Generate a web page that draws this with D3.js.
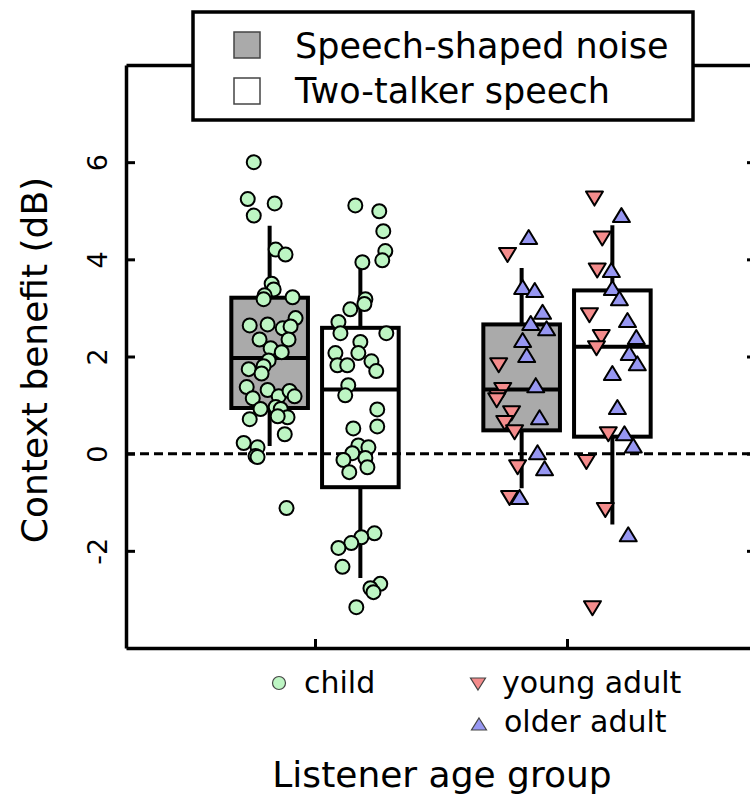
<!DOCTYPE html>
<html>
<head>
<meta charset="utf-8">
<script src="https://cdn.jsdelivr.net/npm/d3@7/dist/d3.min.js"></script>
<style>
  body { margin: 0; background: #fff; }
  text { font-family: "DejaVu Sans", sans-serif; }
</style>
</head>
<body>
<svg id="chart" width="750" height="804"></svg>
<script>
// group positions on x: 1 = child, 2 = adult
const groupPos = [1, 2];
const conditions = ["Speech-shaped noise", "Two-talker speech"];
const condFill = ["#aaaaaa", "#ffffff"];
const condShift = [-0.18, 0.18];
const yTicks = [-2, 0, 2, 4, 6];

// box stats: [whisker low, q1, median, q3, whisker high]
const boxChildSSN = [0.16, 0.94, 1.97, 3.21, 4.69];
const boxChildTTS = [-2.56, -0.69, 1.32, 2.59, 3.96];
const boxAdultSSN = [-0.71, 0.48, 1.32, 2.66, 3.82];
const boxAdultTTS = [-1.46, 0.35, 2.2, 3.36, 4.7];

// children, speech-shaped noise: values and horizontal jitter
const childSSN = [6.00, 5.24, 5.15, 4.90, 4.20, 4.10, 3.50, 3.38, 3.26, 3.18, 3.22, 2.79, 2.64, 2.66,
  2.58, 2.62, 2.35, 2.35, 2.17, 2.09, 1.74, 1.92, 1.80, 1.65, 1.37, 1.14, 1.31, 1.18, 1.29, 1.18,
  0.92, 0.96, 0.92, 0.75, 0.71, 0.77, 0.40, 0.22, 0.13, -0.05, -0.07, -1.12];
const childSSNJit = [-0.063, -0.087, 0.020, -0.063, 0.024, 0.063, 0.008, 0.016, -0.020, -0.024, 0.091,
  0.103, -0.079, -0.008, 0.052, 0.083, -0.040, 0.075, 0.004, 0.048, -0.083, -0.004, -0.024, -0.032,
  -0.091, -0.067, -0.008, 0.036, 0.079, 0.099, -0.036, 0.024, 0.044, 0.071, -0.079, 0.032, 0.060,
  -0.103, -0.048, -0.056, -0.048, 0.067];

// children, two-talker speech
const childTTS = [5.11, 4.99, 4.58, 4.17, 3.98, 3.94, 3.18, 3.08, 2.97, 2.71, 2.48, 2.48, 2.30, 2.07,
  2.07, 1.82, 1.82, 1.90, 1.70, 1.41, 1.20, 0.91, 0.56, 0.52, 0.17, 0.13, 0.01, -0.13, -0.09, -0.28,
  -0.38, -1.64, -1.72, -1.84, -1.94, -2.33, -2.68, -2.77, -2.85, -3.16];
const childTTSJit = [-0.020, 0.075, 0.091, 0.099, 0.087, 0.008, 0.020, 0.016, -0.040, -0.087, -0.079,
  0.103, 0.000, -0.008, -0.099, -0.091, -0.052, 0.044, 0.063, -0.048, -0.060, 0.067, 0.067, -0.028,
  -0.008, 0.032, -0.032, -0.067, 0.020, 0.028, -0.044, 0.056, 0.004, -0.036, -0.087, -0.071, 0.079,
  0.040, 0.052, -0.016];

// young adults (down triangles)
const youngSSN = [4.09, 1.82, 1.31, 1.16, 1.10, 0.83, 0.63, 0.44, -0.28, -0.91];
const youngSSNJit = [-0.056, -0.091, -0.075, -0.095, -0.099, -0.040, -0.067, -0.028, -0.016, -0.048];
const youngTTS = [5.25, 4.43, 3.77, 2.85, 2.40, 2.17, 0.40, -0.17, -1.16, -3.18];
const youngTTSJit = [-0.071, -0.040, -0.060, -0.091, -0.044, -0.063, -0.016, -0.103, -0.028, -0.079];

// older adults (up triangles)
const olderSSN = [4.46, 3.43, 3.37, 2.92, 2.69, 2.58, 2.34, 2.03, 1.41, 0.75, 0.03, -0.30, -0.89];
const olderSSNJit = [0.028, 0.004, 0.052, 0.083, 0.036, 0.099, 0.004, 0.020, 0.056, 0.071, 0.063, 0.091, -0.008];
const olderTTS = [4.91, 3.78, 3.41, 3.20, 2.75, 2.40, 2.07, 1.86, 1.66, 0.96, 0.42, 0.17, -1.66];
const olderTTSJit = [0.036, -0.004, 0.000, 0.028, 0.060, 0.095, 0.067, 0.099, 0.000, 0.020, 0.048, 0.083, 0.063];

const colChild = "#bdf5c3", colYoung = "#f48c8c", colOlder = "#9797f2";

const svg = d3.select("#chart");

const x = d3.scaleLinear().domain([0.25, 2.75]).range([126, 756]);
const y = d3.scaleLinear().domain([-4, 8]).range([648, 65]);

const boxes = [
  {g: 0, c: 0, s: boxChildSSN},
  {g: 0, c: 1, s: boxChildTTS},
  {g: 1, c: 0, s: boxAdultSSN},
  {g: 1, c: 1, s: boxAdultTTS}
];
const boxW = 0.304;

// boxes + whiskers
const bx = svg.append("g").selectAll("g")
  .data(boxes)
  .enter().append("g");

bx.append("line")
  .attr("x1", d => x(groupPos[d.g] + condShift[d.c]))
  .attr("x2", d => x(groupPos[d.g] + condShift[d.c]))
  .attr("y1", d => y(d.s[0]))
  .attr("y2", d => y(d.s[4]))
  .attr("stroke", "#000")
  .attr("stroke-width", 4);

bx.append("rect")
  .attr("x", d => x(groupPos[d.g] + condShift[d.c] - boxW / 2))
  .attr("y", d => y(d.s[3]))
  .attr("width", d => x(boxW) - x(0))
  .attr("height", d => y(d.s[1]) - y(d.s[3]))
  .attr("fill", d => condFill[d.c])
  .attr("stroke", "#000")
  .attr("stroke-width", 4);

bx.append("line")
  .attr("x1", d => x(groupPos[d.g] + condShift[d.c] - boxW / 2))
  .attr("x2", d => x(groupPos[d.g] + condShift[d.c] + boxW / 2))
  .attr("y1", d => y(d.s[2]))
  .attr("y2", d => y(d.s[2]))
  .attr("stroke", "#000")
  .attr("stroke-width", 4);

// zero line
svg.append("line")
  .attr("x1", x(0.25)).attr("x2", x(2.75))
  .attr("y1", y(0)).attr("y2", y(0))
  .attr("stroke", "#000")
  .attr("stroke-width", 3)
  .attr("stroke-dasharray", "9,5");

// points
function pts(vals, jit, g, c) {
  return vals.map((v, i) => ({x: groupPos[g] + condShift[c] + jit[i], v: v}));
}
const triUp = "M0,-7L8.5,7L-8.5,7Z";
const triDown = "M0,7L8.5,-7L-8.5,-7Z";

const circles = pts(childSSN, childSSNJit, 0, 0).concat(pts(childTTS, childTTSJit, 0, 1));
svg.append("g").selectAll("circle")
  .data(circles)
  .enter().append("circle")
  .attr("cx", d => x(d.x))
  .attr("cy", d => y(d.v))
  .attr("r", 7)
  .attr("fill", colChild)
  .attr("stroke", "#000")
  .attr("stroke-width", 2);

const adults = [];
pts(youngSSN, youngSSNJit, 1, 0).forEach(d => adults.push({...d, shape: triDown, fill: colYoung}));
pts(olderSSN, olderSSNJit, 1, 0).forEach(d => adults.push({...d, shape: triUp, fill: colOlder}));
pts(youngTTS, youngTTSJit, 1, 1).forEach(d => adults.push({...d, shape: triDown, fill: colYoung}));
pts(olderTTS, olderTTSJit, 1, 1).forEach(d => adults.push({...d, shape: triUp, fill: colOlder}));

svg.append("g").selectAll("path")
  .data(adults)
  .enter().append("path")
  .attr("transform", d => `translate(${x(d.x)},${y(d.v)})`)
  .attr("d", d => d.shape)
  .attr("fill", d => d.fill)
  .attr("stroke", "#000")
  .attr("stroke-width", 2)
  .attr("stroke-linejoin", "round");

// axes (ticks pointing inward)
const leftAxis = svg.append("g")
  .attr("transform", `translate(${x(0.25)},0)`)
  .call(d3.axisLeft(y).tickValues(yTicks).tickSizeInner(-9).tickSizeOuter(0).tickFormat(d => String(d)));
leftAxis.selectAll("text")
  .attr("transform", "rotate(-90)")
  .attr("x", 0)
  .attr("y", -19)
  .attr("dy", 0)
  .attr("text-anchor", "middle")
  .style("font-family", "DejaVu Sans, sans-serif")
  .style("font-size", "27px")
  .attr("fill", "#000");

const rightAxis = svg.append("g")
  .attr("transform", `translate(${x(2.75)},0)`)
  .call(d3.axisRight(y).tickValues(yTicks).tickSizeInner(-9).tickSizeOuter(0).tickFormat(""));

const bottomAxis = svg.append("g")
  .attr("transform", `translate(0,${y(-4)})`)
  .call(d3.axisBottom(x).tickValues(groupPos).tickSizeInner(-9).tickSizeOuter(0).tickFormat(""));

const topAxis = svg.append("g")
  .attr("transform", `translate(0,${y(8)})`)
  .call(d3.axisTop(x).tickValues([]).tickSizeOuter(0));

svg.selectAll(".domain").attr("stroke-width", 3.5);
svg.selectAll(".tick line").attr("stroke-width", 3);

// legend box (top)
const leg = svg.append("g");
leg.append("rect")
  .attr("x", 193).attr("y", 12)
  .attr("width", 500).attr("height", 108)
  .attr("fill", "#fff")
  .attr("stroke", "#000")
  .attr("stroke-width", 3.5);

leg.selectAll(".sw")
  .data(conditions)
  .enter().append("rect")
  .attr("x", 234)
  .attr("y", (d, i) => 32 + i * 46)
  .attr("width", 26).attr("height", 26)
  .attr("fill", (d, i) => condFill[i])
  .attr("stroke", "#444")
  .attr("stroke-width", 1.5);

leg.selectAll(".lt")
  .data(conditions)
  .enter().append("text")
  .attr("x", 295)
  .attr("y", (d, i) => 58 + i * 45)
  .style("font-size", "35px")
  .text(d => d);

// symbol legend (bottom)
svg.append("circle")
  .attr("cx", 279).attr("cy", 683).attr("r", 6.5)
  .attr("fill", colChild).attr("stroke", "#444").attr("stroke-width", 1.2);
svg.append("text").attr("x", 304).attr("y", 693).style("font-size", "30px").text("child");

svg.append("path")
  .attr("transform", "translate(478,684)")
  .attr("d", "M0,6L7.5,-6L-7.5,-6Z")
  .attr("fill", colYoung).attr("stroke", "#444").attr("stroke-width", 1.2);
svg.append("text").attr("x", 502).attr("y", 693).style("font-size", "30px").text("young adult");

svg.append("path")
  .attr("transform", "translate(479,724)")
  .attr("d", "M0,-6L7.5,6L-7.5,6Z")
  .attr("fill", colOlder).attr("stroke", "#444").attr("stroke-width", 1.2);
svg.append("text").attr("x", 504).attr("y", 732).style("font-size", "30px").text("older adult");

// axis titles
svg.append("text")
  .attr("x", 442).attr("y", 787)
  .attr("text-anchor", "middle")
  .style("font-size", "36px")
  .text("Listener age group");

svg.append("text")
  .attr("transform", "translate(47,360) rotate(-90)")
  .attr("text-anchor", "middle")
  .style("font-size", "36px")
  .text("Context benefit (dB)");
</script>
</body>
</html>
